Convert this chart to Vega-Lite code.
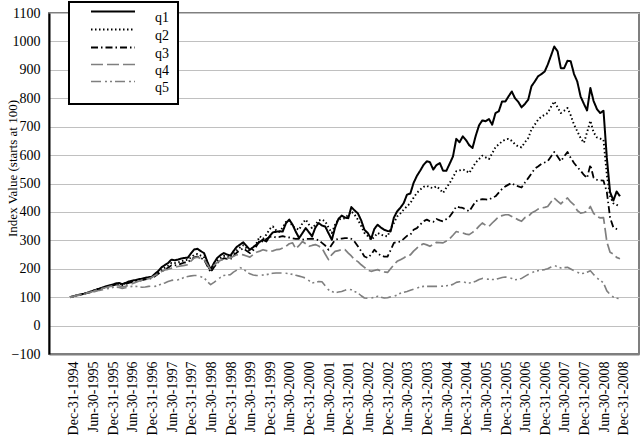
{
"$schema": "https://vega.github.io/schema/vega-lite/v6.json",
"width": 590, "height": 341,
"autosize": {"type": "none"},
"padding": {"left": 49, "top": 13, "right": 3, "bottom": 86},
"background": "white",
"data": {"values": [
{"d":"1994-12-31","q1":100,"q2":100,"q3":100,"q4":100,"q5":100},
{"d":"1995-01-31","q1":103,"q2":103,"q3":103,"q4":103,"q5":102},
{"d":"1995-02-28","q1":106,"q2":106,"q3":106,"q4":106,"q5":105},
{"d":"1995-03-31","q1":109,"q2":109,"q3":108,"q4":108,"q5":107},
{"d":"1995-04-30","q1":111,"q2":111,"q3":111,"q4":111,"q5":110},
{"d":"1995-05-31","q1":114,"q2":114,"q3":114,"q4":114,"q5":112},
{"d":"1995-06-30","q1":118,"q2":118,"q3":117,"q4":117,"q5":115},
{"d":"1995-07-31","q1":122,"q2":122,"q3":121,"q4":120,"q5":118},
{"d":"1995-08-31","q1":126,"q2":126,"q3":125,"q4":124,"q5":121},
{"d":"1995-09-30","q1":130,"q2":130,"q3":128,"q4":128,"q5":124},
{"d":"1995-10-31","q1":134,"q2":133,"q3":132,"q4":131,"q5":126},
{"d":"1995-11-30","q1":138,"q2":137,"q3":135,"q4":134,"q5":129},
{"d":"1995-12-31","q1":141,"q2":140,"q3":138,"q4":137,"q5":131},
{"d":"1996-01-31","q1":144,"q2":143,"q3":141,"q4":140,"q5":134},
{"d":"1996-02-29","q1":148,"q2":146,"q3":144,"q4":143,"q5":136},
{"d":"1996-03-31","q1":150,"q2":148,"q3":146,"q4":140,"q5":134},
{"d":"1996-04-30","q1":146,"q2":145,"q3":142,"q4":136,"q5":131},
{"d":"1996-05-31","q1":150,"q2":149,"q3":146,"q4":138,"q5":133},
{"d":"1996-06-30","q1":155,"q2":153,"q3":150,"q4":143,"q5":136},
{"d":"1996-07-31","q1":158,"q2":156,"q3":153,"q4":147,"q5":138},
{"d":"1996-08-31","q1":160,"q2":158,"q3":155,"q4":152,"q5":138},
{"d":"1996-09-30","q1":163,"q2":161,"q3":158,"q4":156,"q5":137},
{"d":"1996-10-31","q1":165,"q2":163,"q3":160,"q4":160,"q5":135},
{"d":"1996-11-30","q1":168,"q2":166,"q3":163,"q4":162,"q5":136},
{"d":"1996-12-31","q1":170,"q2":168,"q3":165,"q4":165,"q5":138},
{"d":"1997-01-31","q1":172,"q2":170,"q3":167,"q4":170,"q5":139},
{"d":"1997-02-28","q1":182,"q2":178,"q3":174,"q4":176,"q5":138},
{"d":"1997-03-31","q1":192,"q2":186,"q3":182,"q4":182,"q5":142},
{"d":"1997-04-30","q1":205,"q2":196,"q3":190,"q4":190,"q5":146},
{"d":"1997-05-31","q1":213,"q2":204,"q3":197,"q4":196,"q5":150},
{"d":"1997-06-30","q1":220,"q2":210,"q3":203,"q4":198,"q5":155},
{"d":"1997-07-31","q1":232,"q2":220,"q3":212,"q4":202,"q5":159},
{"d":"1997-08-31","q1":230,"q2":220,"q3":212,"q4":205,"q5":161},
{"d":"1997-09-30","q1":232,"q2":222,"q3":214,"q4":208,"q5":161},
{"d":"1997-10-31","q1":236,"q2":226,"q3":218,"q4":210,"q5":165},
{"d":"1997-11-30","q1":238,"q2":230,"q3":222,"q4":212,"q5":170},
{"d":"1997-12-31","q1":239,"q2":232,"q3":224,"q4":214,"q5":173},
{"d":"1998-01-31","q1":255,"q2":240,"q3":232,"q4":228,"q5":175},
{"d":"1998-02-28","q1":268,"q2":249,"q3":240,"q4":238,"q5":176},
{"d":"1998-03-31","q1":270,"q2":252,"q3":243,"q4":241,"q5":176},
{"d":"1998-04-30","q1":262,"q2":246,"q3":238,"q4":236,"q5":172},
{"d":"1998-05-31","q1":255,"q2":240,"q3":232,"q4":232,"q5":168},
{"d":"1998-06-30","q1":225,"q2":215,"q3":210,"q4":215,"q5":155},
{"d":"1998-07-31","q1":197,"q2":192,"q3":188,"q4":197,"q5":144},
{"d":"1998-08-31","q1":220,"q2":212,"q3":205,"q4":212,"q5":152},
{"d":"1998-09-30","q1":238,"q2":228,"q3":220,"q4":222,"q5":161},
{"d":"1998-10-31","q1":248,"q2":238,"q3":230,"q4":230,"q5":170},
{"d":"1998-11-30","q1":255,"q2":245,"q3":237,"q4":234,"q5":176},
{"d":"1998-12-31","q1":250,"q2":242,"q3":235,"q4":236,"q5":178},
{"d":"1999-01-31","q1":246,"q2":240,"q3":233,"q4":238,"q5":179},
{"d":"1999-02-28","q1":262,"q2":252,"q3":245,"q4":244,"q5":188},
{"d":"1999-03-31","q1":277,"q2":265,"q3":257,"q4":249,"q5":195},
{"d":"1999-04-30","q1":285,"q2":275,"q3":265,"q4":250,"q5":204},
{"d":"1999-05-31","q1":293,"q2":283,"q3":272,"q4":249,"q5":199},
{"d":"1999-06-30","q1":280,"q2":272,"q3":263,"q4":245,"q5":190},
{"d":"1999-07-31","q1":267,"q2":262,"q3":255,"q4":241,"q5":182},
{"d":"1999-08-31","q1":276,"q2":272,"q3":265,"q4":250,"q5":178},
{"d":"1999-09-30","q1":285,"q2":290,"q3":280,"q4":258,"q5":176},
{"d":"1999-10-31","q1":295,"q2":314,"q3":300,"q4":262,"q5":177},
{"d":"1999-11-30","q1":302,"q2":305,"q3":295,"q4":267,"q5":178},
{"d":"1999-12-31","q1":296,"q2":320,"q3":305,"q4":264,"q5":179},
{"d":"2000-01-31","q1":315,"q2":340,"q3":312,"q4":261,"q5":182},
{"d":"2000-02-29","q1":328,"q2":349,"q3":314,"q4":263,"q5":184},
{"d":"2000-03-31","q1":330,"q2":335,"q3":310,"q4":267,"q5":185},
{"d":"2000-04-30","q1":332,"q2":330,"q3":312,"q4":268,"q5":185},
{"d":"2000-05-31","q1":331,"q2":345,"q3":315,"q4":273,"q5":185},
{"d":"2000-06-30","q1":360,"q2":365,"q3":312,"q4":279,"q5":184},
{"d":"2000-07-31","q1":373,"q2":370,"q3":310,"q4":288,"q5":183},
{"d":"2000-08-31","q1":355,"q2":349,"q3":307,"q4":291,"q5":180},
{"d":"2000-09-30","q1":330,"q2":343,"q3":305,"q4":270,"q5":177},
{"d":"2000-10-31","q1":308,"q2":337,"q3":306,"q4":282,"q5":174},
{"d":"2000-11-30","q1":325,"q2":360,"q3":302,"q4":296,"q5":171},
{"d":"2000-12-31","q1":343,"q2":373,"q3":305,"q4":288,"q5":167},
{"d":"2001-01-31","q1":328,"q2":355,"q3":305,"q4":279,"q5":158},
{"d":"2001-02-28","q1":314,"q2":343,"q3":306,"q4":282,"q5":150},
{"d":"2001-03-31","q1":345,"q2":355,"q3":305,"q4":285,"q5":152},
{"d":"2001-04-30","q1":361,"q2":370,"q3":300,"q4":280,"q5":155},
{"d":"2001-05-31","q1":352,"q2":373,"q3":291,"q4":273,"q5":154},
{"d":"2001-06-30","q1":349,"q2":367,"q3":282,"q4":252,"q5":140},
{"d":"2001-07-31","q1":325,"q2":345,"q3":267,"q4":232,"q5":126},
{"d":"2001-08-31","q1":302,"q2":326,"q3":285,"q4":250,"q5":120},
{"d":"2001-09-30","q1":345,"q2":355,"q3":302,"q4":261,"q5":115},
{"d":"2001-10-31","q1":375,"q2":373,"q3":305,"q4":264,"q5":118},
{"d":"2001-11-30","q1":387,"q2":375,"q3":306,"q4":267,"q5":120},
{"d":"2001-12-31","q1":380,"q2":378,"q3":308,"q4":267,"q5":124},
{"d":"2002-01-31","q1":378,"q2":390,"q3":308,"q4":255,"q5":129},
{"d":"2002-02-28","q1":417,"q2":402,"q3":305,"q4":245,"q5":126},
{"d":"2002-03-31","q1":405,"q2":390,"q3":295,"q4":232,"q5":120},
{"d":"2002-04-30","q1":395,"q2":373,"q3":279,"q4":225,"q5":115},
{"d":"2002-05-31","q1":370,"q2":350,"q3":262,"q4":214,"q5":105},
{"d":"2002-06-30","q1":337,"q2":326,"q3":243,"q4":205,"q5":97},
{"d":"2002-07-31","q1":326,"q2":315,"q3":238,"q4":195,"q5":96},
{"d":"2002-08-31","q1":305,"q2":302,"q3":250,"q4":191,"q5":97},
{"d":"2002-09-30","q1":340,"q2":312,"q3":267,"q4":194,"q5":100},
{"d":"2002-10-31","q1":355,"q2":326,"q3":255,"q4":197,"q5":103},
{"d":"2002-11-30","q1":345,"q2":320,"q3":246,"q4":192,"q5":100},
{"d":"2002-12-31","q1":337,"q2":316,"q3":243,"q4":189,"q5":97},
{"d":"2003-01-31","q1":333,"q2":314,"q3":243,"q4":187,"q5":98},
{"d":"2003-02-28","q1":331,"q2":340,"q3":265,"q4":200,"q5":101},
{"d":"2003-03-31","q1":380,"q2":361,"q3":291,"q4":214,"q5":103},
{"d":"2003-04-30","q1":402,"q2":384,"q3":294,"q4":226,"q5":108},
{"d":"2003-05-31","q1":415,"q2":395,"q3":296,"q4":232,"q5":114},
{"d":"2003-06-30","q1":431,"q2":408,"q3":305,"q4":238,"q5":117},
{"d":"2003-07-31","q1":461,"q2":420,"q3":316,"q4":246,"q5":120},
{"d":"2003-08-31","q1":465,"q2":431,"q3":320,"q4":249,"q5":124},
{"d":"2003-09-30","q1":502,"q2":450,"q3":337,"q4":262,"q5":128},
{"d":"2003-10-31","q1":527,"q2":467,"q3":343,"q4":273,"q5":132},
{"d":"2003-11-30","q1":545,"q2":478,"q3":355,"q4":282,"q5":136},
{"d":"2003-12-31","q1":565,"q2":488,"q3":367,"q4":288,"q5":138},
{"d":"2004-01-31","q1":578,"q2":492,"q3":373,"q4":284,"q5":138},
{"d":"2004-02-29","q1":575,"q2":486,"q3":367,"q4":279,"q5":138},
{"d":"2004-03-31","q1":549,"q2":484,"q3":365,"q4":286,"q5":138},
{"d":"2004-04-30","q1":565,"q2":490,"q3":375,"q4":293,"q5":138},
{"d":"2004-05-31","q1":572,"q2":480,"q3":370,"q4":292,"q5":138},
{"d":"2004-06-30","q1":545,"q2":467,"q3":367,"q4":291,"q5":139},
{"d":"2004-07-31","q1":545,"q2":485,"q3":375,"q4":298,"q5":140},
{"d":"2004-08-31","q1":570,"q2":502,"q3":384,"q4":306,"q5":142},
{"d":"2004-09-30","q1":595,"q2":522,"q3":400,"q4":318,"q5":145},
{"d":"2004-10-31","q1":657,"q2":543,"q3":419,"q4":331,"q5":152},
{"d":"2004-11-30","q1":645,"q2":546,"q3":416,"q4":328,"q5":154},
{"d":"2004-12-31","q1":666,"q2":549,"q3":414,"q4":326,"q5":156},
{"d":"2005-01-31","q1":652,"q2":545,"q3":408,"q4":322,"q5":150},
{"d":"2005-02-28","q1":635,"q2":537,"q3":402,"q4":320,"q5":150},
{"d":"2005-03-31","q1":625,"q2":555,"q3":420,"q4":328,"q5":152},
{"d":"2005-04-30","q1":668,"q2":574,"q3":437,"q4":337,"q5":156},
{"d":"2005-05-31","q1":705,"q2":586,"q3":442,"q4":350,"q5":162},
{"d":"2005-06-30","q1":722,"q2":598,"q3":445,"q4":361,"q5":166},
{"d":"2005-07-31","q1":719,"q2":592,"q3":444,"q4":353,"q5":164},
{"d":"2005-08-31","q1":727,"q2":586,"q3":443,"q4":349,"q5":163},
{"d":"2005-09-30","q1":707,"q2":606,"q3":450,"q4":361,"q5":162},
{"d":"2005-10-31","q1":748,"q2":628,"q3":455,"q4":372,"q5":162},
{"d":"2005-11-30","q1":754,"q2":638,"q3":468,"q4":384,"q5":166},
{"d":"2005-12-31","q1":789,"q2":648,"q3":481,"q4":387,"q5":169},
{"d":"2006-01-31","q1":789,"q2":655,"q3":490,"q4":390,"q5":171},
{"d":"2006-02-28","q1":806,"q2":657,"q3":496,"q4":390,"q5":170},
{"d":"2006-03-31","q1":824,"q2":650,"q3":502,"q4":384,"q5":166},
{"d":"2006-04-30","q1":800,"q2":638,"q3":493,"q4":378,"q5":161},
{"d":"2006-05-31","q1":787,"q2":630,"q3":490,"q4":372,"q5":163},
{"d":"2006-06-30","q1":768,"q2":627,"q3":486,"q4":367,"q5":166},
{"d":"2006-07-31","q1":780,"q2":645,"q3":503,"q4":380,"q5":173},
{"d":"2006-08-31","q1":795,"q2":660,"q3":519,"q4":384,"q5":180},
{"d":"2006-09-30","q1":842,"q2":690,"q3":535,"q4":396,"q5":185},
{"d":"2006-10-31","q1":859,"q2":707,"q3":552,"q4":402,"q5":191},
{"d":"2006-11-30","q1":877,"q2":724,"q3":560,"q4":410,"q5":193},
{"d":"2006-12-31","q1":885,"q2":735,"q3":569,"q4":414,"q5":195},
{"d":"2007-01-31","q1":894,"q2":742,"q3":574,"q4":416,"q5":197},
{"d":"2007-02-28","q1":918,"q2":748,"q3":578,"q4":419,"q5":200},
{"d":"2007-03-31","q1":950,"q2":770,"q3":595,"q4":435,"q5":206},
{"d":"2007-04-30","q1":982,"q2":789,"q3":611,"q4":449,"q5":212},
{"d":"2007-05-31","q1":965,"q2":768,"q3":595,"q4":438,"q5":207},
{"d":"2007-06-30","q1":906,"q2":748,"q3":578,"q4":428,"q5":203},
{"d":"2007-07-31","q1":906,"q2":756,"q3":595,"q4":440,"q5":204},
{"d":"2007-08-31","q1":932,"q2":766,"q3":611,"q4":449,"q5":205},
{"d":"2007-09-30","q1":930,"q2":740,"q3":590,"q4":435,"q5":199},
{"d":"2007-10-31","q1":885,"q2":707,"q3":572,"q4":425,"q5":193},
{"d":"2007-11-30","q1":859,"q2":684,"q3":558,"q4":405,"q5":188},
{"d":"2007-12-31","q1":806,"q2":660,"q3":545,"q4":396,"q5":183},
{"d":"2008-01-31","q1":780,"q2":643,"q3":530,"q4":398,"q5":184},
{"d":"2008-02-29","q1":757,"q2":680,"q3":519,"q4":402,"q5":188},
{"d":"2008-03-31","q1":836,"q2":721,"q3":566,"q4":419,"q5":193},
{"d":"2008-04-30","q1":790,"q2":680,"q3":520,"q4":395,"q5":180},
{"d":"2008-05-31","q1":762,"q2":662,"q3":513,"q4":384,"q5":167},
{"d":"2008-06-30","q1":748,"q2":658,"q3":511,"q4":379,"q5":160},
{"d":"2008-07-31","q1":756,"q2":654,"q3":510,"q4":380,"q5":150},
{"d":"2008-08-31","q1":590,"q2":530,"q3":470,"q4":295,"q5":122},
{"d":"2008-09-30","q1":470,"q2":455,"q3":380,"q4":258,"q5":110},
{"d":"2008-10-31","q1":440,"q2":430,"q3":345,"q4":252,"q5":100},
{"d":"2008-11-30","q1":472,"q2":425,"q3":340,"q4":240,"q5":96},
{"d":"2008-12-31","q1":455,"q2":419,"q3":337,"q4":235,"q5":95}
]},
"transform": [{"fold": ["q1","q2","q3","q4","q5"], "as": ["s","v"]}],
"mark": {"type": "line", "strokeCap": "butt", "strokeJoin": "round", "clip": true},
"encoding": {
  "x": {"field": "d", "type": "temporal",
    "scale": {"type": "utc", "domain": [{"year":1994,"month":6,"date":19,"utc":true},{"year":2009,"month":6,"date":26,"utc":true}]},
    "axis": {"title": null, "format": "%b-%d-%Y", "labelAngle": -90, "labelPadding": 7, "labelOffset": 4, "ticks": false, "grid": false,
      "labelOverlap": false, "labelFlush": false, "labelBound": false,
      "domainColor": "#7f7f7f", "domainWidth": 2,
      "values": [
        {"year":1994,"month":12,"date":31,"utc":true},{"year":1995,"month":6,"date":30,"utc":true},
        {"year":1995,"month":12,"date":31,"utc":true},{"year":1996,"month":6,"date":30,"utc":true},
        {"year":1996,"month":12,"date":31,"utc":true},{"year":1997,"month":6,"date":30,"utc":true},
        {"year":1997,"month":12,"date":31,"utc":true},{"year":1998,"month":6,"date":30,"utc":true},
        {"year":1998,"month":12,"date":31,"utc":true},{"year":1999,"month":6,"date":30,"utc":true},
        {"year":1999,"month":12,"date":31,"utc":true},{"year":2000,"month":6,"date":30,"utc":true},
        {"year":2000,"month":12,"date":31,"utc":true},{"year":2001,"month":6,"date":30,"utc":true},
        {"year":2001,"month":12,"date":31,"utc":true},{"year":2002,"month":6,"date":30,"utc":true},
        {"year":2002,"month":12,"date":31,"utc":true},{"year":2003,"month":6,"date":30,"utc":true},
        {"year":2003,"month":12,"date":31,"utc":true},{"year":2004,"month":6,"date":30,"utc":true},
        {"year":2004,"month":12,"date":31,"utc":true},{"year":2005,"month":6,"date":30,"utc":true},
        {"year":2005,"month":12,"date":31,"utc":true},{"year":2006,"month":6,"date":30,"utc":true},
        {"year":2006,"month":12,"date":31,"utc":true},{"year":2007,"month":6,"date":30,"utc":true},
        {"year":2007,"month":12,"date":31,"utc":true},{"year":2008,"month":6,"date":30,"utc":true},
        {"year":2008,"month":12,"date":31,"utc":true}
      ]}},
  "y": {"field": "v", "type": "quantitative",
    "scale": {"domain": [-100, 1100], "nice": false, "zero": false},
    "axis": {"title": "Index Value (starts at 100)", "values": [-100,0,100,200,300,400,500,600,700,800,900,1000,1100],
      "format": "d", "ticks": false, "labelPadding": 9, "domainColor": "#000000", "domainWidth": 2,
      "gridColor": "#c0c0c0", "gridWidth": 1,
      "titleFontSize": 13, "titleFontWeight": "normal", "titleAngle": -90, "titleX": -37, "titleY": 155,
      "titleAlign": "center", "titleBaseline": "middle"}},
  "color": {"field": "s", "type": "nominal",
    "scale": {"domain": ["q1","q2","q3","q4","q5"], "range": ["#000000","#000000","#000000","#7f7f7f","#7f7f7f"]},
    "legend": {"title": null, "orient": "none", "legendX": 20, "legendY": -11, "direction": "vertical",
      "symbolType": "M-4.4,0H4.4", "symbolSize": 100, "labelOffset": 35, "labelBaseline": "middle",
      "padding": 9, "symbolOffset": 28, "rowPadding": 0,
      "labelExpr": "datum.label + '\u00a0\u00a0\u00a0\u00a0\u00a0\u00a0\u00a0'",
      "encode": {"symbols": {"update": {"y": {"signal": "datum.size * 0.5 - 6.5"}}}},
      "strokeColor": "#000000", "fillColor": "#ffffff"}},
  "strokeDash": {"field": "s", "type": "nominal",
    "scale": {"domain": ["q1","q2","q3","q4","q5"], "range": [[1,0],[1.5,2.5],[7,3,1.5,3],[12,4],[10,4,2,3,2,3]]}},
  "strokeWidth": {"field": "s", "type": "nominal",
    "scale": {"domain": ["q1","q2","q3","q4","q5"], "range": [2,1.6,1.6,4.5,3]}}
},
"config": {
  "font": "Liberation Serif",
  "view": {"stroke": "#7f7f7f", "strokeWidth": 2},
  "axis": {"labelFont": "Liberation Serif", "labelFontSize": 14, "labelColor": "#000000",
    "titleFont": "Liberation Serif", "titleColor": "#000000"},
  "legend": {"labelFont": "Liberation Serif", "labelFontSize": 14, "labelColor": "#000000", "strokeWidth": 2}
}
}
